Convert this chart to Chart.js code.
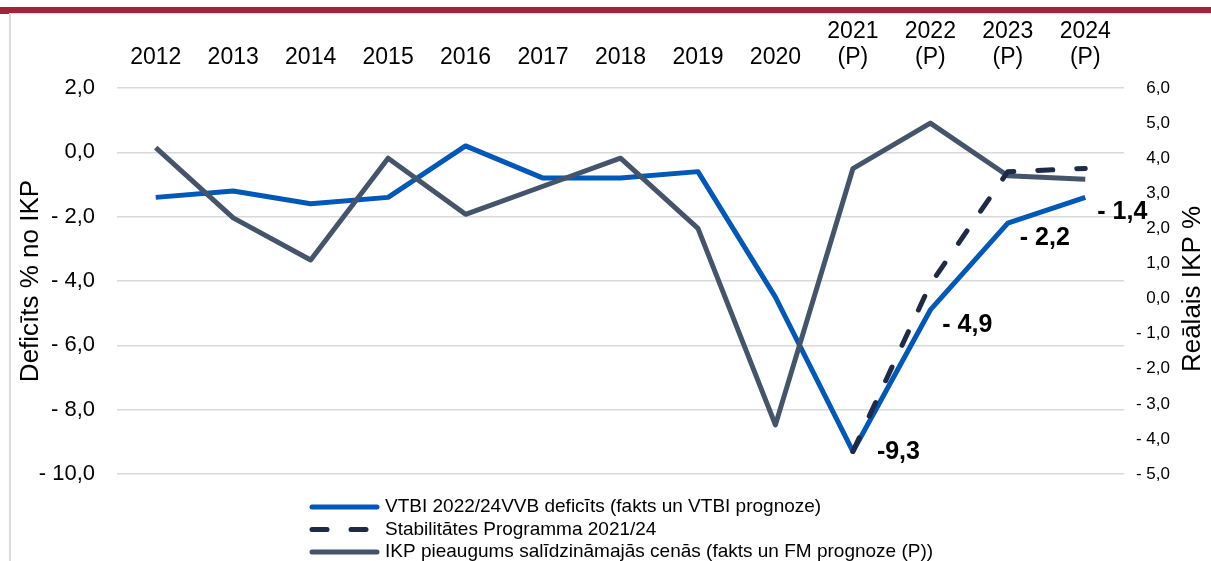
<!DOCTYPE html>
<html lang="lv">
<head>
<meta charset="utf-8">
<title>Deficīts un IKP</title>
<script src="https://cdn.jsdelivr.net/npm/chart.js@4.4.1/dist/chart.umd.min.js"></script>
<style>
  html, body { margin: 0; padding: 0; background: #fff; }
  #wrap { position: relative; width: 1211px; height: 561px; overflow: hidden; }
  #topbar { position: absolute; left: 0; top: 7px; width: 1211px; height: 6px; background: #a0243a; }
  #topbarEnd { position: absolute; left: 0; top: 13px; width: 10px; height: 1px; background: #a0243a; }
  #frameTop { position: absolute; left: 10px; top: 13px; width: 1201px; height: 1px; background: #e2e2e2; }
  #frameLeft { position: absolute; left: 9px; top: 13px; width: 2px; height: 548px; background: #dcdcdc; }
  canvas { position: absolute; left: 0; top: 0; }
</style>
</head>
<body>
<div id="wrap">
  <canvas id="myChart" width="1211" height="561"></canvas>
  <div id="topbar"></div>
  <div id="topbarEnd"></div>
  <div id="frameTop"></div>
  <div id="frameLeft"></div>
</div>
<script>
"use strict";

/* Dati nolasīti no attēla */
const years = ["2012", "2013", "2014", "2015", "2016", "2017", "2018", "2019", "2020",
  ["2021", "(P)"], ["2022", "(P)"], ["2023", "(P)"], ["2024", "(P)"]];
const deficitVtbi = [-1.4, -1.2, -1.6, -1.4, 0.2, -0.8, -0.8, -0.6, -4.5, -9.3, -4.9, -2.2, -1.4];
const stabilityProgram = [null, null, null, null, null, null, null, null, null, -9.3, -4.1, -0.6, -0.5];
const gdpGrowth = [4.3, 2.3, 1.1, 4.0, 2.4, 3.2, 4.0, 2.0, -3.6, 3.7, 5.0, 3.5, 3.4];
const deficitLabels = [null, null, null, null, null, null, null, null, null, "-9,3", "- 4,9", "- 2,2", "- 1,4"];
const seriesNames = [
  "VTBI 2022/24VVB deficīts (fakts un VTBI prognoze)",
  "Stabilitātes Programma 2021/24",
  "IKP pieaugums salīdzināmajās cenās (fakts un FM prognoze (P))"
];

const FONT = "'Liberation Sans', Arial, sans-serif";

/* Skaitļi ar komatu un "- " priekšā */
function formatTick(value) {
  const txt = Math.abs(value).toFixed(1).replace(".", ",");
  return value < 0 ? "- " + txt : txt;
}

/* Vērtību etiķetes pie deficīta līnijas */
const valueLabels = {
  id: "valueLabels",
  afterDatasetsDraw(chart) {
    const ctx = chart.ctx;
    const meta = chart.getDatasetMeta(0);
    ctx.save();
    ctx.font = "bold 25px " + FONT;
    ctx.fillStyle = "#000";
    ctx.textBaseline = "middle";
    ctx.textAlign = "left";
    deficitLabels.forEach((text, i) => {
      if (!text) return;
      const pt = meta.data[i];
      const dx = i === 9 ? 24 : 12;
      const dy = i === 9 ? 1 : 15;
      ctx.fillText(text, pt.x + dx, pt.y + dy);
    });
    ctx.restore();
  }
};

/* Leģenda zem grafika, pa vienai rindai */
const stackedLegend = {
  id: "stackedLegend",
  afterDraw(chart) {
    const ctx = chart.ctx;
    ctx.save();
    ctx.font = "19px " + FONT;
    ctx.textBaseline = "middle";
    ctx.textAlign = "left";
    chart.data.datasets.forEach((ds, i) => {
      const y = 507 + i * 22.5;
      ctx.strokeStyle = ds.borderColor;
      ctx.lineWidth = ds.borderWidth;
      ctx.lineCap = "round";
      ctx.setLineDash(ds.borderDash || []);
      ctx.beginPath();
      ctx.moveTo(312, y);
      ctx.lineTo(377, y);
      ctx.stroke();
      ctx.setLineDash([]);
      ctx.fillStyle = "#000";
      ctx.fillText(ds.label, 385, y);
    });
    ctx.restore();
  }
};

/* Labās ass nosaukums, lasāms no apakšas uz augšu */
const rightTitle = {
  id: "rightTitle",
  afterDraw(chart) {
    const ctx = chart.ctx;
    const area = chart.chartArea;
    ctx.save();
    ctx.translate(1193, (area.top + area.bottom) / 2 + 8);
    ctx.rotate(-Math.PI / 2);
    ctx.font = "26px " + FONT;
    ctx.fillStyle = "#000";
    ctx.textAlign = "center";
    ctx.textBaseline = "middle";
    ctx.fillText("Reālais IKP %", 0, 0);
    ctx.restore();
  }
};

function createChart() {
  const ctx = document.getElementById("myChart");
  new Chart(ctx, {
    type: "line",
    data: {
      labels: years,
      datasets: [{
        label: seriesNames[0],
        data: deficitVtbi,
        yAxisID: "y",
        borderColor: "#0058b8",
        borderWidth: 5,
        borderJoinStyle: "round",
        pointRadius: 0,
        order: 3
      }, {
        label: seriesNames[1],
        data: stabilityProgram,
        yAxisID: "y",
        borderColor: "#1f2a46",
        borderWidth: 5,
        borderDash: [15, 24],
        borderCapStyle: "round",
        borderJoinStyle: "round",
        pointRadius: 0,
        order: 1
      }, {
        label: seriesNames[2],
        data: gdpGrowth,
        yAxisID: "y1",
        borderColor: "#44546a",
        borderWidth: 5,
        borderJoinStyle: "round",
        pointRadius: 0,
        order: 2
      }]
    },
    options: {
      responsive: false,
      animation: false,
      devicePixelRatio: 1,
      layout: { padding: { left: 0, right: 41, top: 0, bottom: 87 } },
      plugins: {
        legend: { display: false },
        tooltip: { enabled: false }
      },
      scales: {
        x: {
          position: "top",
          offset: true,
          grid: { display: false, drawTicks: false },
          border: { display: false },
          ticks: {
            color: "#000",
            autoSkip: false,
            maxRotation: 0,
            padding: 17,
            font: { family: FONT, size: 23, lineHeight: 1.13 }
          },
          afterFit(scale) { scale.height = 88; }
        },
        y: {
          position: "left",
          min: -10,
          max: 2,
          grid: { color: "#d9d9d9", lineWidth: 1.5, drawTicks: false },
          border: { display: false },
          ticks: {
            stepSize: 2,
            color: "#000",
            padding: 22,
            font: { family: FONT, size: 22 },
            callback: formatTick
          },
          title: {
            display: true,
            text: "Deficīts % no IKP",
            color: "#000",
            font: { family: FONT, size: 26 },
            padding: { top: 15, bottom: 0 }
          },
          afterFit(scale) { scale.width = 117; }
        },
        y1: {
          position: "right",
          min: -5,
          max: 6,
          grid: { display: false, drawTicks: false },
          border: { display: false },
          ticks: {
            stepSize: 1,
            color: "#000",
            padding: 8,
            crossAlign: "far",
            font: { family: FONT, size: 17 },
            callback: formatTick
          },
          afterFit(scale) { scale.width = 46; }
        }
      }
    },
    plugins: [valueLabels, stackedLegend, rightTitle]
  });
}

createChart();
</script>
</body>
</html>
